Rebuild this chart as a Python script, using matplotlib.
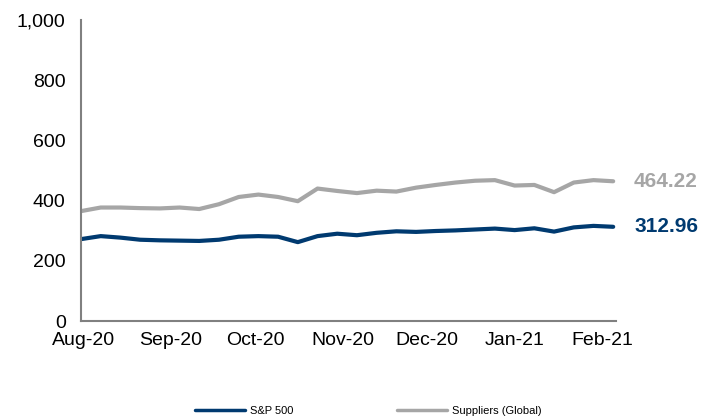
import matplotlib.pyplot as plt
import matplotlib.dates as mdates
import pandas as pd

plt.rcParams["font.family"] = ["Liberation Sans", "DejaVu Sans"]

dates = pd.date_range("2020-07-31", "2021-02-05", freq="7D")
sp500 = [272, 282, 277, 270, 268, 267, 266, 270, 280, 282, 280, 262, 282, 290,
         285, 293, 298, 296, 299, 301, 304, 307, 302, 308, 297, 311, 316, 312.96]
suppliers = [365, 377, 377, 375, 374, 377, 372, 388, 412, 420, 412, 398, 440, 432,
             425, 433, 430, 443, 452, 460, 466, 468, 450, 452, 428, 460, 468, 464.22]
month_ticks = pd.date_range("2020-08-01", "2021-02-01", freq="MS")

navy = "#003A70"
grey = "#A6A6A6"

fig = plt.figure(figsize=(7.15, 4.16), dpi=100)
ax = fig.add_axes([81 / 715, 1 - 321 / 416, 535 / 715, 301 / 416])

ax.plot(dates, sp500, color=navy, lw=3, label="S&P 500", solid_capstyle="round")
ax.plot(dates, suppliers, color=grey, lw=3, label="Suppliers (Global)", solid_capstyle="round")

ax.set_ylim(0, 1000)
ax.set_yticks(range(0, 1001, 200))
ax.set_yticklabels([f"{v:,}" for v in range(0, 1001, 200)])
ax.set_xlim(pd.Timestamp("2020-07-31"), pd.Timestamp("2021-02-06"))
ax.set_xticks(month_ticks)
ax.xaxis.set_major_formatter(mdates.DateFormatter("%b-%y"))

for s in ["top", "right"]:
    ax.spines[s].set_visible(False)
for s in ["left", "bottom"]:
    ax.spines[s].set_color("#808080")
    ax.spines[s].set_linewidth(1.5)
ax.tick_params(length=0, labelsize=14)
ax.tick_params(axis="y", pad=11)
ax.tick_params(axis="x", pad=8)

ax.annotate(f"{suppliers[-1]:.2f}", xy=(dates[-1], suppliers[-1]), xytext=(15, 0),
            textcoords="offset points", va="center", ha="left",
            color=grey, fontsize=15, fontweight="bold")
ax.annotate(f"{sp500[-1]:.2f}", xy=(dates[-1], sp500[-1]), xytext=(15, 0),
            textcoords="offset points", va="center", ha="left",
            color=navy, fontsize=15, fontweight="bold")

leg = fig.legend(loc="center", bbox_to_anchor=(0.515, 0.012), ncol=2, frameon=False,
                 fontsize=8, handlelength=4.5, handletextpad=0.4, columnspacing=9.4)
for line in leg.get_lines():
    line.set_linewidth(2.5)

fig.savefig("out.png", dpi=100)
